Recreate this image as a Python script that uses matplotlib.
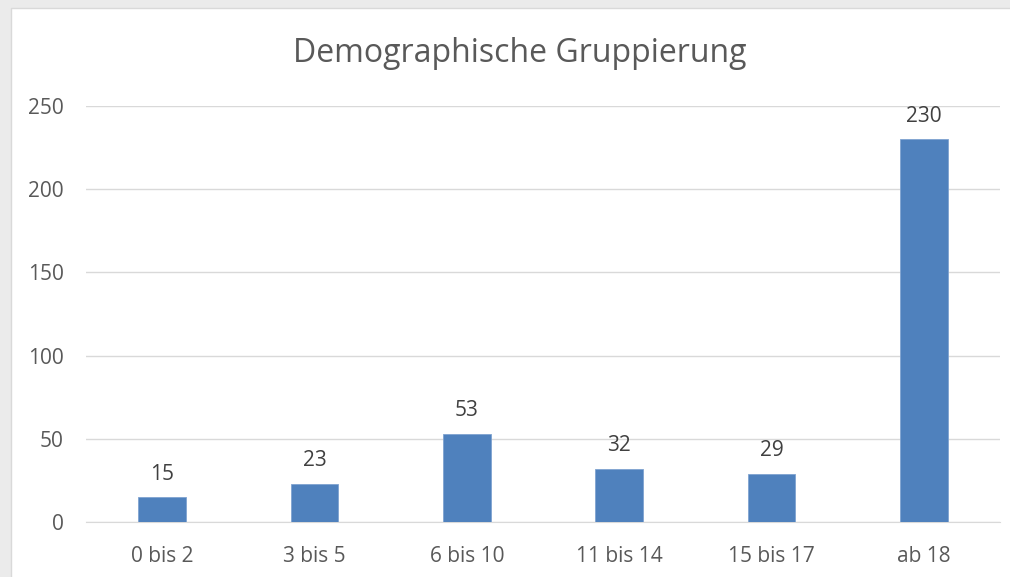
import numpy as np
import matplotlib
matplotlib.use("Agg")
from matplotlib import pyplot as plt
from matplotlib.patches import Rectangle

# Altersgruppen und Anzahl
categories = ["0 bis 2", "3 bis 5", "6 bis 10", "11 bis 14", "15 bis 17", "ab 18"]
counts = [15, 23, 53, 32, 29, 230]
y_ticks = [0, 50, 100, 150, 200, 250]

plt.rcParams['font.family'] = ['Open Sans', 'DejaVu Sans']

W, H = 1010, 577
fig = plt.figure(figsize=(W / 100, H / 100), dpi=100)
fig.patch.set_facecolor('#EBEBEB')

# white chart panel with thin border
fig.patches.append(Rectangle((11 / W, -0.01), 1.0, 1 - 8 / H + 0.01,
                             transform=fig.transFigure, facecolor='white',
                             edgecolor='#D9D9D9', linewidth=1.0, zorder=-1))

ax = fig.add_axes([86 / W, 1 - 522 / H, (1000 - 86) / W, (522 - 106) / H])
ax.set_facecolor('none')
ax.set_zorder(2)

x = np.arange(len(categories))
bars = ax.bar(x, counts, width=0.315, color='#4F81BD', edgecolor='#7FA3D0',
              linewidth=0.6, zorder=3)

for xi, v in zip(x, counts):
    ax.annotate(str(v), (xi, v), xytext=(0, 9), textcoords='offset points',
                ha='center', va='bottom', fontsize=15, color='#404040')

ax.set_xlim(-0.5, len(categories) - 0.5)
ax.set_ylim(0, 250)
ax.set_yticks(y_ticks)
ax.set_xticks(x)
ax.set_xticklabels(categories)
ax.grid(axis='y', color='#D9D9D9', linewidth=1.0, zorder=0)
for s in ['top', 'right', 'left']:
    ax.spines[s].set_visible(False)
ax.spines['bottom'].set_color('#D9D9D9')
ax.tick_params(axis='both', length=0, labelsize=15, colors='#595959')
ax.tick_params(axis='y', pad=16)
ax.tick_params(axis='x', pad=17)

fig.text(520 / W, 1 - 53 / H, "Demographische Gruppierung", ha='center',
         va='center', fontsize=23, color='#595959')

fig.savefig("out.png", dpi=100, facecolor=fig.get_facecolor())
